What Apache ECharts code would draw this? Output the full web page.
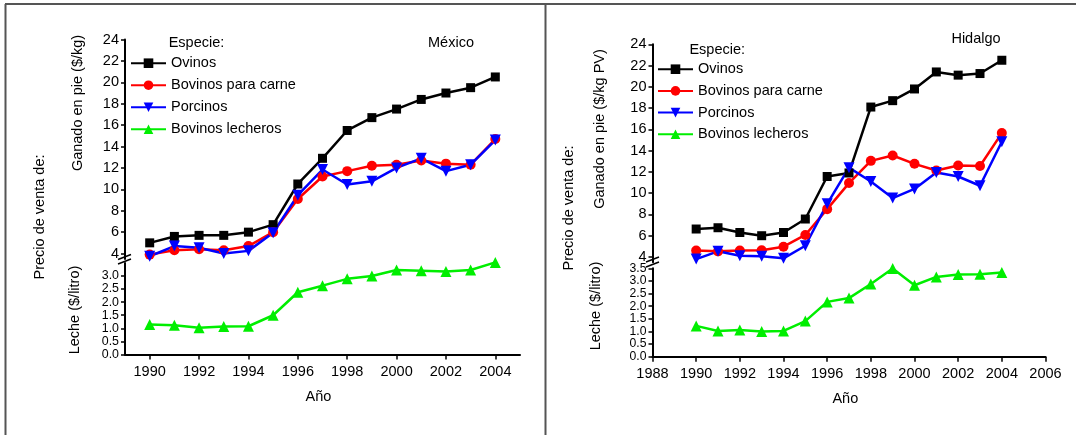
<!DOCTYPE html>
<html>
<head>
<meta charset="utf-8">
<script src="https://cdn.jsdelivr.net/npm/echarts@6/dist/echarts.min.js"></script>
<style>
  html, body { margin: 0; padding: 0; background: #fff; }
  #main { width: 1076px; height: 435px; }
</style>
</head>
<body>
<div id="main"></div>
<script>
// años de la serie
const years = [1990, 1991, 1992, 1993, 1994, 1995, 1996, 1997, 1998, 1999, 2000, 2001, 2002, 2003, 2004];

// México
const mxOvinos = [5.0, 5.6, 5.7, 5.7, 6.0, 6.7, 10.5, 12.9, 15.5, 16.7, 17.5, 18.4, 19.0, 19.5, 20.5];
const mxCarne = [3.9, 4.3, 4.4, 4.3, 4.7, 6.0, 9.1, 11.2, 11.7, 12.2, 12.3, 12.7, 12.4, 12.3, 14.7];
const mxPorcinos = [3.75, 4.7, 4.55, 4.0, 4.25, 5.95, 9.45, 11.85, 10.45, 10.75, 12.0, 12.9, 11.7, 12.3, 14.6];
const mxLeche = [1.15, 1.12, 1.02, 1.07, 1.08, 1.5, 2.38, 2.63, 2.89, 3.0, 3.23, 3.2, 3.17, 3.23, 3.52];

// Hidalgo
const hgOvinos = [6.63, 6.75, 6.3, 6.0, 6.3, 7.57, 11.57, 11.9, 18.1, 18.7, 19.8, 21.4, 21.1, 21.25, 22.5];
const hgCarne = [4.6, 4.53, 4.6, 4.63, 4.97, 6.07, 8.5, 10.95, 13.04, 13.54, 12.76, 12.13, 12.6, 12.55, 15.65];
const hgPorcinos = [3.8, 4.53, 4.12, 4.06, 3.87, 5.06, 9.0, 12.4, 11.1, 9.54, 10.4, 11.94, 11.57, 10.7, 14.83];
const hgLeche = [1.22, 1.02, 1.06, 1.0, 1.02, 1.41, 2.17, 2.32, 2.88, 3.49, 2.83, 3.16, 3.25, 3.26, 3.33];

// etiquetas de los ejes
const yearTicksMx = [1990, 1992, 1994, 1996, 1998, 2000, 2002, 2004];
const yearTicksHg = [1988, 1990, 1992, 1994, 1996, 1998, 2000, 2002, 2004, 2006];
const kgTicks = [4, 6, 8, 10, 12, 14, 16, 18, 20, 22, 24];
const lecheTicksMx = [0, 0.5, 1.0, 1.5, 2.0, 2.5, 3.0];
const lecheTicksHg = [0, 0.5, 1.0, 1.5, 2.0, 2.5, 3.0, 3.5];

const names = ["Ovinos", "Bovinos para carne", "Porcinos", "Bovinos lecheros"];
const FONT = "'Liberation Sans', Arial, sans-serif";
const FS = 14.5;

const myChart = echarts.init(document.getElementById("main"));

const pairs = (vals) => vals.map((v, i) => [years[i], v]);

function line(name, vals, axisIdx, color, symbol, size, rotate) {
  return {
    name: name,
    type: "line",
    xAxisIndex: axisIdx,
    yAxisIndex: axisIdx,
    data: pairs(vals),
    symbol: symbol,
    symbolSize: size,
    symbolRotate: rotate || 0,
    clip: false,
    color: color,
    lineStyle: { color: color, width: 2.5 },
    itemStyle: { color: color },
    z: 3
  };
}

const axisLineStyle = { show: true, lineStyle: { color: "#000", width: 2 } };
const lbl = {
  color: "#000", fontSize: FS, fontFamily: FONT,
  showMinLabel: true, showMaxLabel: true, hideOverlap: false
};

function yAxis(gi, min, max, ticks, fmt, fs) {
  return {
    type: "value",
    gridIndex: gi,
    min: min,
    max: max,
    axisLine: axisLineStyle,
    axisTick: { show: true, length: 4, customValues: ticks, lineStyle: { color: "#000", width: 1.5 } },
    axisLabel: Object.assign({}, lbl, { margin: 6, customValues: ticks, formatter: fmt, fontSize: fs || FS, lineHeight: fs || FS }),
    splitLine: { show: false }
  };
}

function hiddenX(gi, min, max) {
  return { type: "value", gridIndex: gi, min: min, max: max, show: false, splitLine: { show: false } };
}

function yearAxis(gi, min, max, ticks) {
  return {
    type: "value", gridIndex: gi, min: min, max: max,
    axisLine: axisLineStyle,
    axisTick: { show: true, length: 5, customValues: ticks, lineStyle: { color: "#000", width: 1.5 } },
    axisLabel: Object.assign({ margin: 10, customValues: ticks, formatter: (v) => String(v) }, lbl),
    splitLine: { show: false }
  };
}

function rotText(x, y, text) {
  return {
    type: "text", x: x, y: y, rotation: Math.PI / 2,
    style: { text: text, fill: "#000", font: FS + "px " + FONT, align: "center", verticalAlign: "middle" }
  };
}
function plainText(x, y, text, align) {
  return {
    type: "text", x: x, y: y,
    style: { text: text, fill: "#000", font: FS + "px " + FONT, align: align || "center", verticalAlign: "middle" }
  };
}
function seg(x1, y1, x2, y2, w, c) {
  return { type: "line", shape: { x1: x1, y1: y1, x2: x2, y2: y2 }, style: { stroke: c || "#000", lineWidth: w || 1.5 }, z: 10 };
}

const option = {
  backgroundColor: "#fff",
  animation: false,
  textStyle: { fontFamily: FONT },
  grid: [
    { left: 125, top: 39.5, width: 395, height: 219.4 },
    { left: 125, top: 262.9, width: 395, height: 91.6 },
    { left: 652.5, top: 44.3, width: 393, height: 218 },
    { left: 652.5, top: 268.3, width: 393, height: 88.4 }
  ],
  xAxis: [
    hiddenX(0, 1989, 2005),
    yearAxis(1, 1989, 2005, yearTicksMx),
    hiddenX(2, 1988, 2006),
    yearAxis(3, 1988, 2006, yearTicksHg)
  ],
  yAxis: [
    yAxis(0, 3.5, 24, kgTicks, (v) => String(v)),
    yAxis(1, 0, 3.5, lecheTicksMx, (v) => v.toFixed(1), 12.4),
    yAxis(2, 3.5, 24, kgTicks, (v) => String(v)),
    yAxis(3, 0, 3.5, lecheTicksHg, (v) => v.toFixed(1), 12.2)
  ],
  legend: [
    {
      data: names, orient: "vertical", left: 130, top: 55.7, padding: 0,
      itemWidth: 35, itemHeight: 12, itemGap: 7,
      textStyle: { color: "#000", fontSize: FS, fontFamily: FONT, lineHeight: 12 }
    },
    {
      data: names, orient: "vertical", left: 657, top: 61.7, padding: 0,
      itemWidth: 35, itemHeight: 12, itemGap: 6.7,
      textStyle: { color: "#000", fontSize: FS, fontFamily: FONT, lineHeight: 12 }
    }
  ],
  series: [
    line("Ovinos", mxOvinos, 0, "#000000", "rect", 9),
    line("Bovinos para carne", mxCarne, 0, "#ff0000", "circle", 10),
    line("Porcinos", mxPorcinos, 0, "#0000ff", "triangle", 11, 180),
    line("Bovinos lecheros", mxLeche, 1, "#00ee00", "triangle", 11),
    line("Ovinos", hgOvinos, 2, "#000000", "rect", 9),
    line("Bovinos para carne", hgCarne, 2, "#ff0000", "circle", 10),
    line("Porcinos", hgPorcinos, 2, "#0000ff", "triangle", 11, 180),
    line("Bovinos lecheros", hgLeche, 3, "#00ee00", "triangle", 11)
  ],
  graphic: [
    // marco
    seg(5, 4, 1076, 4, 2, "#555"),
    seg(5.5, 4, 5.5, 435, 2, "#555"),
    seg(545.5, 4, 545.5, 435, 2, "#555"),
    // cortes del eje
    seg(118, 259.5, 131, 254.5),
    seg(118, 264, 131, 259),
    seg(646, 262, 659, 257),
    seg(646, 267, 659, 262),
    // textos
    plainText(451, 43.3, "México"),
    plainText(976, 39.3, "Hidalgo"),
    plainText(168.7, 43, "Especie:", "left"),
    plainText(689.4, 50, "Especie:", "left"),
    plainText(318.5, 397.3, "Año"),
    plainText(845.3, 399.3, "Año"),
    rotText(77.5, 103, "Ganado en pie ($/kg)"),
    rotText(75, 310, "Leche ($/litro)"),
    rotText(39.6, 217, "Precio de venta de:"),
    rotText(599.8, 129, "Ganado en pie ($/kg PV)"),
    rotText(596.4, 306, "Leche ($/litro)"),
    rotText(569, 208, "Precio de venta de:")
  ]
};

myChart.setOption(option);
</script>
</body>
</html>
